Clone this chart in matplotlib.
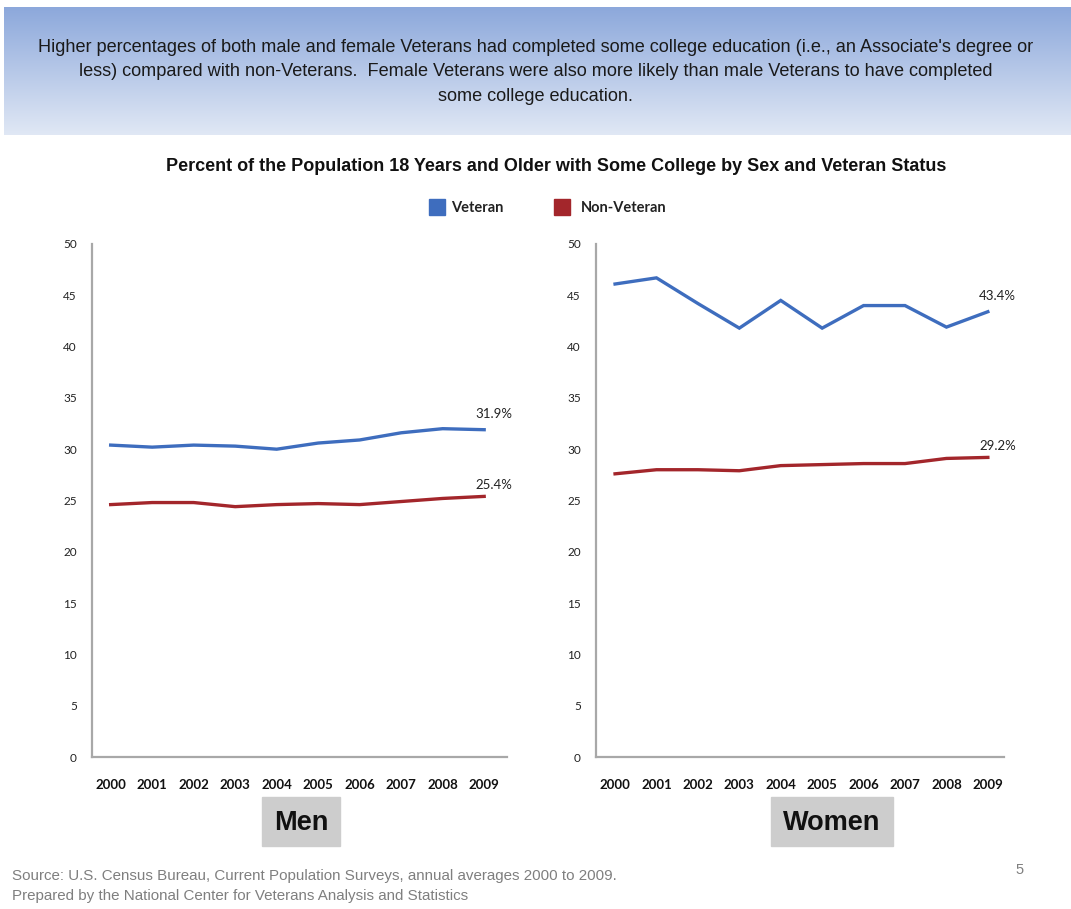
import numpy as np
import matplotlib
matplotlib.use('Agg')
import matplotlib.pyplot as plt
from matplotlib.patches import Rectangle

years = [2000, 2001, 2002, 2003, 2004, 2005, 2006, 2007, 2008, 2009]
men_veteran = [30.4, 30.2, 30.4, 30.3, 30.0, 30.6, 30.9, 31.6, 32.0, 31.9]
men_nonveteran = [24.6, 24.8, 24.8, 24.4, 24.6, 24.7, 24.6, 24.9, 25.2, 25.4]
women_veteran = [46.1, 46.7, 44.2, 41.8, 44.5, 41.8, 44.0, 44.0, 41.9, 43.4]
women_nonveteran = [27.6, 28.0, 28.0, 27.9, 28.4, 28.5, 28.6, 28.6, 29.1, 29.2]
yticks = [0, 5, 10, 15, 20, 25, 30, 35, 40, 45, 50]

header = ("Higher percentages of both male and female Veterans had completed some college education (i.e., an Associate's degree or\n"
          "less) compared with non-Veterans.  Female Veterans were also more likely than male Veterans to have completed\n"
          "some college education.")
title = "Percent of the Population 18 Years and Older with Some College by Sex and Veteran Status"

BLUE = '#3E6DBE'
RED = '#A3262B'
W, H = 1071, 909

fig = plt.figure(figsize=(W / 100, H / 100), dpi=100)

def fx(px):
    return px / W

def fy(py):
    return 1 - py / H

# banner with gradient
bax = fig.add_axes([fx(4), fy(135), fx(1071 - 4), (135 - 7) / H])
grad = np.linspace(0, 1, 256).reshape(-1, 1)
top = np.array([0.55, 0.66, 0.86])
bot = np.array([0.88, 0.91, 0.96])
img = top + (bot - top) * grad[:, :, None]
bax.imshow(img, aspect='auto', extent=[0, 1, 0, 1])
bax.axis('off')
fig.text(0.5, fy(72), header, ha='center', va='center', fontsize=13.1,
         family='Liberation Sans', color='#1a1a1a', linespacing=1.55)

fig.text(fx(556), fy(166), title, ha='center', va='center', fontsize=13,
         family='Liberation Sans', fontweight='bold', color='#111111')

# legend
fig.patches.append(Rectangle((fx(429), fy(215)), fx(16), 16 / H, color=BLUE,
                             transform=fig.transFigure, figure=fig))
fig.text(fx(451), fy(208), 'Veteran', ha='left', va='center', fontsize=10.5,
         family='Lato', fontweight='bold', color='#222222')
fig.patches.append(Rectangle((fx(554), fy(215)), fx(16), 16 / H, color=RED,
                             transform=fig.transFigure, figure=fig))
fig.text(fx(581), fy(208), 'Non-Veteran', ha='left', va='center', fontsize=10.5,
         family='Lato', fontweight='bold', color='#222222')

panels = [
    (92, 507, 1999.55, 2009.55, men_veteran, men_nonveteran, 'Men', 262, 340),
    (596, 1004, 1999.54, 2009.39, women_veteran, women_nonveteran, 'Women', 771, 893),
]

for x0, x1, xl, xr, vet, nonvet, label, bx0, bx1 in panels:
    ax = fig.add_axes([fx(x0), fy(757), fx(x1 - x0), (757 - 244) / H])
    ax.plot(years, vet, color=BLUE, lw=2.4, solid_joinstyle='miter')
    ax.plot(years, nonvet, color=RED, lw=2.4)
    ax.set_xlim(xl, xr)
    ax.set_ylim(0, 50)
    ax.set_yticks(yticks)
    ax.set_xticks(years)
    ax.set_xticklabels([str(y) for y in years], fontsize=9.5, family='Lato',
                       fontweight='bold', color='#111111')
    ax.set_yticklabels([str(t) for t in yticks], fontsize=8.5, family='Lato',
                       color='#222222')
    ax.tick_params(axis='both', length=0)
    ax.tick_params(axis='y', pad=11)
    ax.tick_params(axis='x', pad=16)
    for s in ['top', 'right']:
        ax.spines[s].set_visible(False)
    for s in ['left', 'bottom']:
        ax.spines[s].set_color('#A8A8A8')
        ax.spines[s].set_linewidth(1.6)
    ax.annotate(f'{vet[-1]:.1f}%', (years[-1], vet[-1]), xytext=(7, 7),
                textcoords='offset points', ha='center', va='bottom',
                fontsize=9.5, family='Lato', color='#222222')
    ax.annotate(f'{nonvet[-1]:.1f}%', (years[-1], nonvet[-1]), xytext=(7, 4),
                textcoords='offset points', ha='center', va='bottom',
                fontsize=9.5, family='Lato', color='#222222')

    fig.patches.append(Rectangle((fx(bx0), fy(846)), fx(bx1 - bx0), 49 / H,
                                 color='#CDCDCD', transform=fig.transFigure, figure=fig))
    fig.text(fx((bx0 + bx1) / 2), fy(823), label, ha='center', va='center',
             fontsize=19.5, family='Liberation Sans', fontweight='bold', color='#111111')

fig.text(fx(12), fy(876), 'Source: U.S. Census Bureau, Current Population Surveys, annual averages 2000 to 2009.',
         ha='left', va='center', fontsize=10.9, family='Liberation Sans', color='#7f7f7f')
fig.text(fx(12), fy(896), 'Prepared by the National Center for Veterans Analysis and Statistics',
         ha='left', va='center', fontsize=10.9, family='Liberation Sans', color='#7f7f7f')
fig.text(fx(1020), fy(870), '5', ha='center', va='center', fontsize=10.5,
         family='Liberation Sans', color='#7f7f7f')

fig.savefig('out.png', dpi=100)
